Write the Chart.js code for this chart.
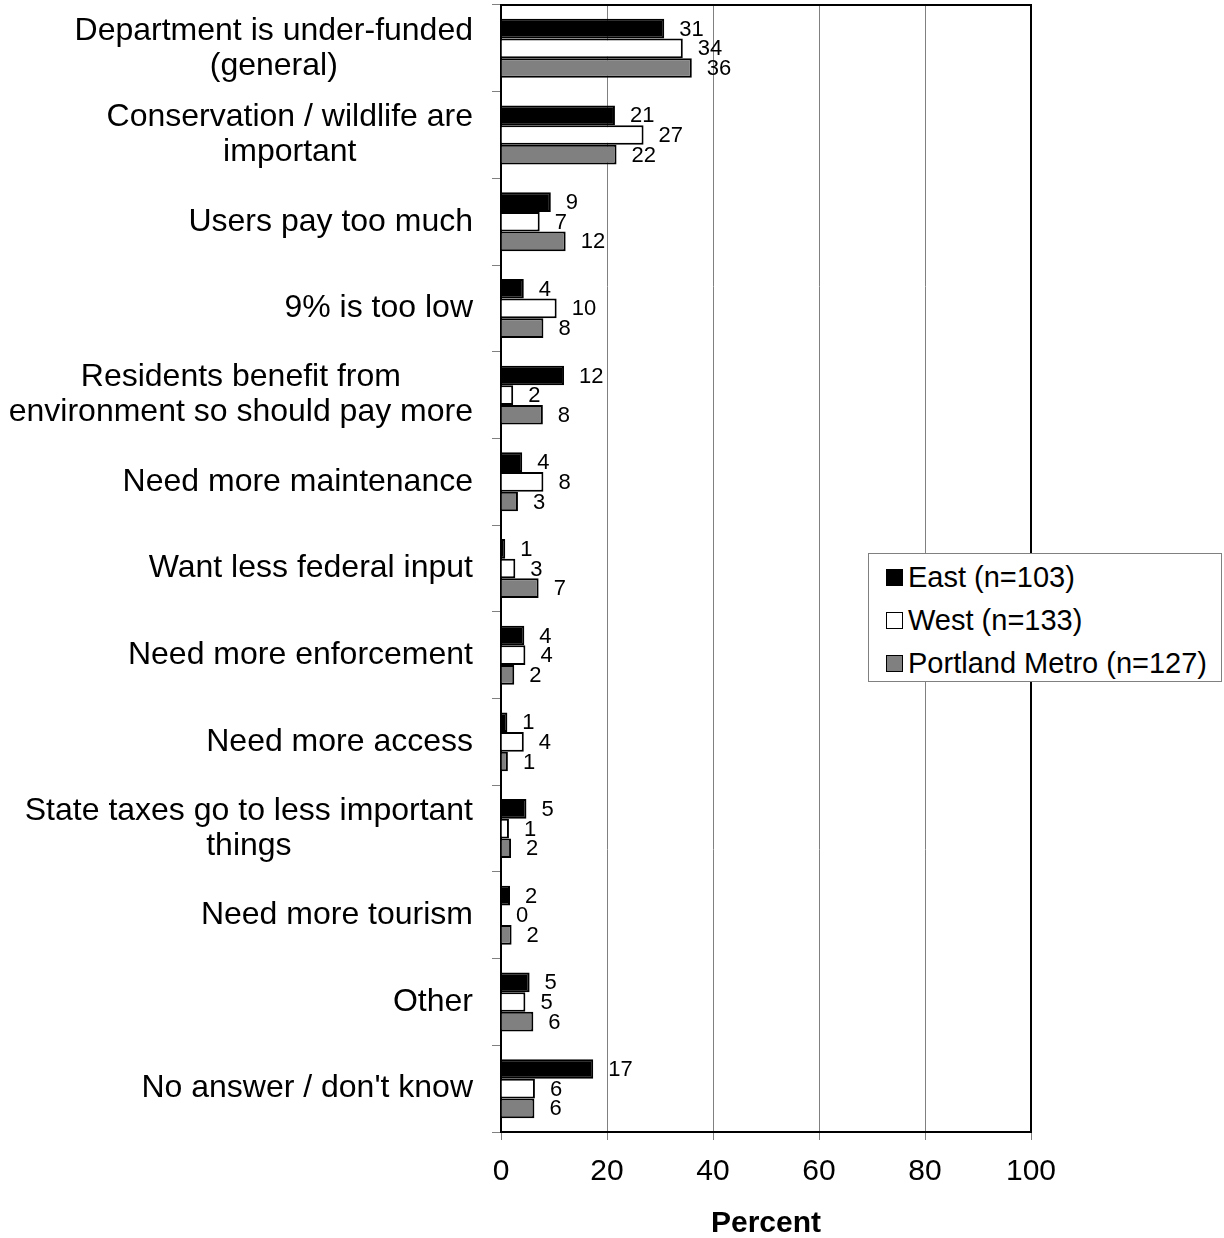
<!DOCTYPE html>
<html>
<head>
<meta charset="utf-8">
<script src="https://cdn.jsdelivr.net/npm/chart.js@4.4.1/dist/chart.umd.min.js"></script>
<style>
  body { margin: 0; background: #fff; }
  #wrap { position: relative; width: 1224px; height: 1238px; }
  #legend {
    position: absolute; left: 868px; top: 553px; width: 354px; height: 129px;
    border: 1px solid #808080; background: #fff;
    font-family: "Liberation Sans", Arial, sans-serif; font-size: 29px; color: #000;
    box-sizing: border-box; padding-top: 2px;
  }
  .item { height: 43px; display: flex; align-items: center; padding-left: 17px; white-space: nowrap; }
  .sw { width: 15px; height: 15px; border: 1.5px solid #000; margin-right: 5px; box-sizing: content-box; }
</style>
</head>
<body>
<div id="wrap">
  <canvas id="chart" width="1224" height="1238"></canvas>
  <div id="legend"></div>
</div>
<script>
// categories (top to bottom)
var categories = [
    ["Department is under-funded", "(general)"],
    ["Conservation / wildlife are", "important"],
    "Users pay too much",
    "9% is too low",
    ["Residents benefit from", "environment so should pay more"],
    "Need more maintenance",
    "Want less federal input",
    "Need more enforcement",
    "Need more access",
    ["State taxes go to less important", "things"],
    "Need more tourism",
    "Other",
    "No answer / don't know"
];

// bar lengths
var eastData     = [30.8, 21.5, 9.4, 4.3, 11.9, 4.0, 0.8, 4.4, 1.2, 4.8, 1.7, 5.4, 17.4];
var westData     = [34.3, 26.9, 7.3, 10.5, 2.3, 8.0, 2.7, 4.6, 4.3, 1.5, 0, 4.6, 6.4];
var portlandData = [36.0, 21.8, 12.2, 8.0, 7.9, 3.2, 7.1, 2.5, 1.3, 1.9, 2.0, 6.1, 6.3];

// numbers printed next to the bars
var eastLabels     = [31, 21, 9, 4, 12, 4, 1, 4, 1, 5, 2, 5, 17];
var westLabels     = [34, 27, 7, 10, 2, 8, 3, 4, 4, 1, 0, 5, 6];
var portlandLabels = [36, 22, 12, 8, 8, 3, 7, 2, 1, 2, 2, 6, 6];

var seriesNames = ["East (n=103)", "West (n=133)", "Portland Metro (n=127)"];
var xTicks = [0, 20, 40, 60, 80, 100];

var FONT = '"Liberation Sans", Arial, sans-serif';

// Chart Data
var chartData = {
    labels: categories,
    datasets: [{
        label: seriesNames[0],
        data: eastData,
        printed: eastLabels,
        backgroundColor: "#000000",
        borderColor: "#000000",
        borderWidth: 2
    }, {
        label: seriesNames[1],
        data: westData,
        printed: westLabels,
        backgroundColor: "#ffffff",
        borderColor: "#000000",
        borderWidth: 2
    }, {
        label: seriesNames[2],
        data: portlandData,
        printed: portlandLabels,
        backgroundColor: "#808080",
        borderColor: "#000000",
        borderWidth: 2
    }]
};

// frame around the plot area
var framePlugin = {
    id: "frame",
    afterDraw: function(chart) {
        var a = chart.chartArea, c = chart.ctx;
        c.save();
        c.strokeStyle = "#000";
        c.lineWidth = 2;
        c.beginPath();
        c.moveTo(a.left, a.top);
        c.lineTo(a.right, a.top);
        c.lineTo(a.right, a.bottom);
        c.stroke();
        c.restore();
    }
};

// category labels: block right-aligned, lines centred
var catLabelPlugin = {
    id: "catLabels",
    afterDraw: function(chart) {
        var c = chart.ctx, yScale = chart.scales.y;
        c.save();
        c.font = "32px " + FONT;
        c.fillStyle = "#000";
        c.textAlign = "center";
        c.textBaseline = "middle";
        categories.forEach(function(lab, i) {
            var lines = Array.isArray(lab) ? lab : [lab];
            var w = 0;
            lines.forEach(function(l) { w = Math.max(w, c.measureText(l).width); });
            var cx = 473 - w / 2;
            var y = yScale.getPixelForTick(i);
            lines.forEach(function(l, j) {
                c.fillText(l, cx, y + (j - (lines.length - 1) / 2) * 35);
            });
        });
        c.restore();
    }
};

// value labels at the end of each bar
var valuePlugin = {
    id: "values",
    afterDatasetsDraw: function(chart) {
        var c = chart.ctx;
        c.save();
        c.font = "22px " + FONT;
        c.fillStyle = "#000";
        c.textAlign = "left";
        c.textBaseline = "middle";
        chart.data.datasets.forEach(function(ds, d) {
            chart.getDatasetMeta(d).data.forEach(function(bar, i) {
                c.fillText(String(ds.printed[i]), bar.x + 15, bar.y + 1);
            });
        });
        c.restore();
    }
};

var config = {
    type: "bar",
    data: chartData,
    options: {
        indexAxis: "y",
        responsive: false,
        animation: false,
        categoryPercentage: 0.68,
        barPercentage: 1.0,
        layout: { padding: { top: 5, right: 193, left: 0, bottom: 0 } },
        plugins: {
            legend: { display: false },
            tooltip: { enabled: false }
        },
        scales: {
            y: {
                offset: true,
                ticks: { display: false },
                grid: { drawOnChartArea: false, drawTicks: true, tickLength: 9, color: "#808080", offset: true },
                border: { color: "#000", width: 2 },
                afterFit: function(scale) { scale.width = 501; }
            },
            x: {
                min: 0,
                max: 100,
                afterBuildTicks: function(scale) {
                    scale.ticks = xTicks.map(function(v) { return { value: v }; });
                },
                ticks: { font: { family: FONT, size: 30 }, color: "#000", padding: 14 },
                grid: { color: "#808080", lineWidth: 1, tickLength: 8 },
                border: { color: "#000", width: 2 },
                title: {
                    display: true,
                    text: "Percent",
                    color: "#000",
                    font: { family: FONT, size: 30, weight: "bold" },
                    padding: { top: 0, bottom: -4 }
                },
                afterFit: function(scale) { scale.height = 106; }
            }
        }
    },
    plugins: [framePlugin, catLabelPlugin, valuePlugin]
};

var barChart = new Chart(document.getElementById("chart"), config);

// legend
var legend = document.getElementById("legend");
chartData.datasets.forEach(function(ds) {
    var row = document.createElement("div");
    row.className = "item";
    var sw = document.createElement("span");
    sw.className = "sw";
    sw.style.background = ds.backgroundColor;
    row.appendChild(sw);
    row.appendChild(document.createTextNode(ds.label));
    legend.appendChild(row);
});
</script>
</body>
</html>
